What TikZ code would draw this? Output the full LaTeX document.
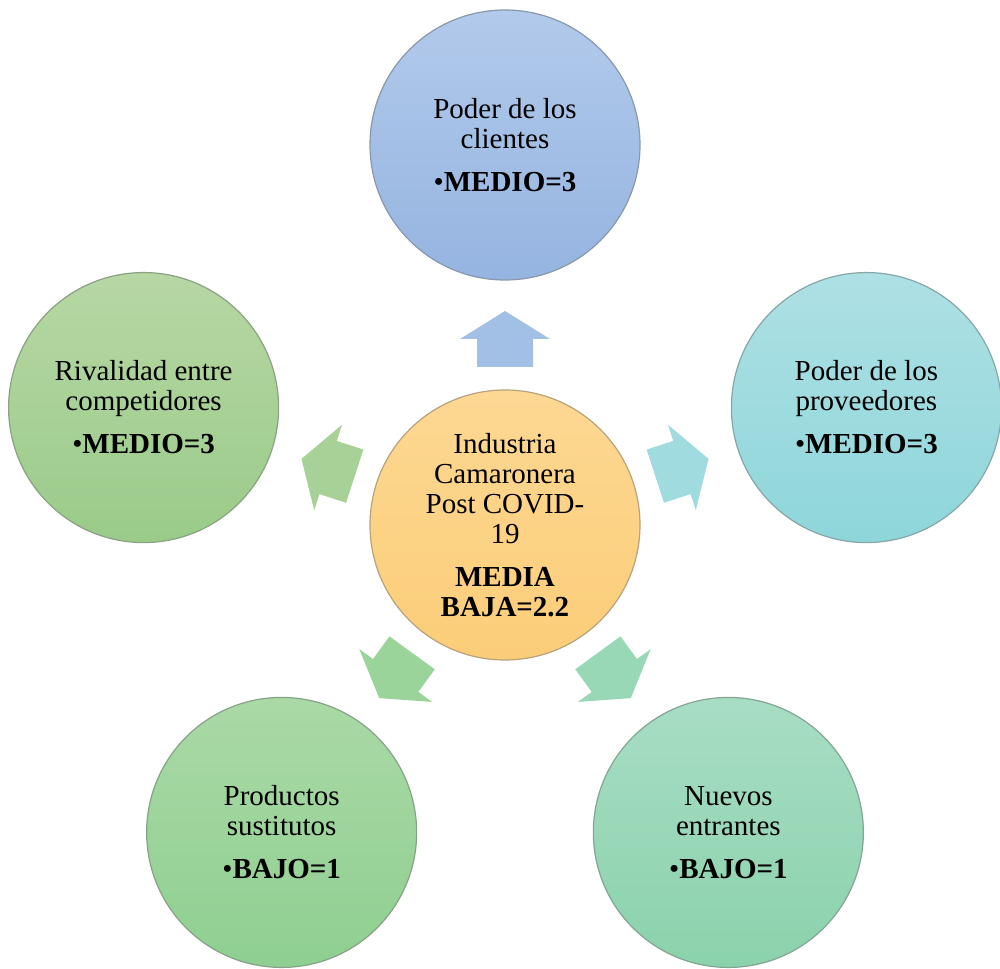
\documentclass[tikz,border=0pt]{standalone}
\usepackage{fontspec}
\setmainfont{Liberation Serif}
\usepackage{xcolor}
\usepackage{tikz}
\usetikzlibrary{calc}

\definecolor{clientesA}{HTML}{B2CAEB}
\definecolor{clientesB}{HTML}{95B4E0}
\definecolor{proveedoresA}{HTML}{AEE0E4}
\definecolor{proveedoresB}{HTML}{8ED6DA}
\definecolor{entrantesA}{HTML}{A8DDC4}
\definecolor{entrantesB}{HTML}{8AD2AC}
\definecolor{sustitutosA}{HTML}{AAD9A6}
\definecolor{sustitutosB}{HTML}{8FCF91}
\definecolor{rivalidadA}{HTML}{B7D7A4}
\definecolor{rivalidadB}{HTML}{9ACB8A}
\definecolor{centroA}{HTML}{FDD893}
\definecolor{centroB}{HTML}{FBCD78}
\definecolor{flechaClientes}{HTML}{A2BFE5}
\definecolor{flechaProveedores}{HTML}{A0DCDF}
\definecolor{flechaEntrantes}{HTML}{98D8B6}
\definecolor{flechaSustitutos}{HTML}{9BD49A}
\definecolor{flechaRivalidad}{HTML}{A8D198}

\begin{document}
\begin{tikzpicture}[
    x=0.5pt, y=0.5pt,
    circulo/.style={circle, minimum size=135pt, inner sep=0pt, align=center,
        line width=0.6pt, font=\fontsize{14.5pt}{15pt}\selectfont},
    flecha/.pic={\fill[pic actions] (0,-28) -- (28,-28) -- (28,-45) -- (56,0) -- (28,45) -- (28,28) -- (0,28) -- cycle;}
]
\useasboundingbox (-505,-443) rectangle (495,525);

\node[circulo, top color=centroA, bottom color=centroB, draw=centroB!45!gray] (centro) at (0,0)
    {Industria\\Camaronera\\Post COVID-\\19\\[6.5pt]\textbf{MEDIA}\\\textbf{BAJA=2.2}};
\node[circulo, top color=clientesA, bottom color=clientesB, draw=clientesB!45!gray] (clientes) at (90:380)
    {Poder de los\\clientes\\[6.5pt]•\textbf{MEDIO=3}};
\node[circulo, top color=proveedoresA, bottom color=proveedoresB, draw=proveedoresB!45!gray] (proveedores) at (18:380)
    {Poder de los\\proveedores\\[6.5pt]•\textbf{MEDIO=3}};
\node[circulo, top color=entrantesA, bottom color=entrantesB, draw=entrantesB!45!gray] (entrantes) at (-54:380)
    {Nuevos\\entrantes\\[6.5pt]•\textbf{BAJO=1}};
\node[circulo, top color=sustitutosA, bottom color=sustitutosB, draw=sustitutosB!45!gray] (sustitutos) at (-126:380)
    {Productos\\sustitutos\\[6.5pt]•\textbf{BAJO=1}};
\node[circulo, top color=rivalidadA, bottom color=rivalidadB, draw=rivalidadB!45!gray] (rivalidad) at (162:380)
    {Rivalidad entre\\competidores\\[6.5pt]•\textbf{MEDIO=3}};

% flechas de bloque desde el centro
\foreach \dest/\ang/\col in {clientes/90/flechaClientes, proveedores/18/flechaProveedores,
    entrantes/-54/flechaEntrantes, sustitutos/-126/flechaSustitutos, rivalidad/162/flechaRivalidad}
  \pic[fill=\col, rotate=\ang] at ($(centro)!79pt!(\dest)$) {flecha};

\end{tikzpicture}
\end{document}
